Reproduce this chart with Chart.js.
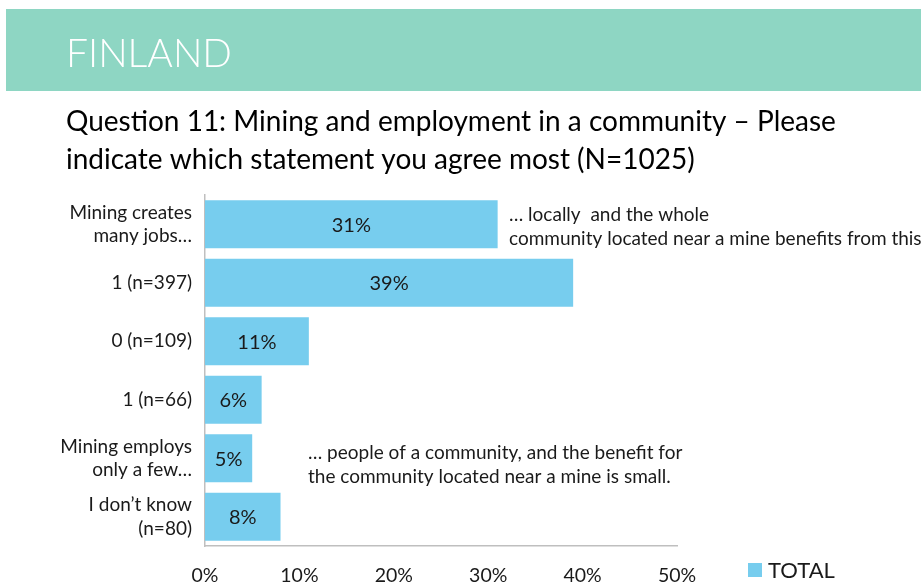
<!DOCTYPE html>
<html>
<head>
<meta charset="utf-8">
<script src="https://cdn.jsdelivr.net/npm/chart.js@4.4.1/dist/chart.umd.min.js"></script>
<style>
    html, body { margin: 0; padding: 0; background: #fff; }
    #q11Chart { display: block; }
</style>
</head>
<body>
<canvas id="q11Chart" width="921" height="584"></canvas>
<script>
const countryName = 'FINLAND';
const questionTitle = [
    'Question 11: Mining and employment in a community \u2013 Please',
    'indicate which statement you agree most (N=1025)'
];
const categories = [
    ['Mining creates', 'many jobs\u2026'],
    '1 (n=397)',
    '0 (n=109)',
    '1 (n=66)',
    ['Mining employs', 'only a few\u2026'],
    ['I don\u2019t know', '(n=80)']
];
const totalShares = [31, 39, 11, 6, 5, 8];
const xTicks = [0, 10, 20, 30, 40, 50];
const seriesName = 'TOTAL';
const topStatement = ['\u2026 locally  and the whole', 'community located near a mine benefits from this'];
const bottomStatement = ['\u2026 people of a community, and the benefit for', 'the community located near a mine is small.'];

const BAR_COLOR = '#77cdee';
const TEXT_FONT = '"Lato", "Open Sans", sans-serif';

// header band, question text, statements, value labels and legend
const decorations = {
    id: 'decorations',
    beforeDraw(chart) {
        const ctx = chart.ctx;
        ctx.save();
        ctx.fillStyle = '#8ed6c3';
        ctx.fillRect(6, 9, 915, 82);
        ctx.fillStyle = '#ffffff';
        ctx.font = '300 39px ' + TEXT_FONT;
        ctx.textBaseline = 'alphabetic';
        ctx.fillText(countryName, 66, 67);

        ctx.fillStyle = '#000000';
        ctx.font = '28px ' + TEXT_FONT;
        ctx.fillText(questionTitle[0], 66, 131);
        ctx.fillText(questionTitle[1], 66, 169);
        ctx.restore();
    },
    afterDatasetsDraw(chart) {
        const ctx = chart.ctx;
        const meta = chart.getDatasetMeta(0);
        const x0 = chart.scales.x.getPixelForValue(0);
        ctx.save();
        ctx.fillStyle = '#1a1a1a';
        ctx.font = '20px ' + TEXT_FONT;
        ctx.textAlign = 'center';
        ctx.textBaseline = 'middle';
        meta.data.forEach((bar, i) => {
            ctx.fillText(totalShares[i] + '%', (x0 + bar.x) / 2, bar.y + 1);
        });

        ctx.textAlign = 'left';
        ctx.font = '19px ' + TEXT_FONT;
        ctx.fillText(topStatement[0], 509, 215);
        ctx.fillText(topStatement[1], 509, 239);
        ctx.fillText(bottomStatement[0], 308, 453);
        ctx.fillText(bottomStatement[1], 308, 477);

        ctx.fillStyle = BAR_COLOR;
        ctx.fillRect(748, 563, 14, 14);
        ctx.fillStyle = '#1a1a1a';
        ctx.font = '22px ' + TEXT_FONT;
        ctx.fillText(chart.data.datasets[0].label, 768, 571);
        ctx.restore();
    }
};

new Chart(document.getElementById('q11Chart'), {
    type: 'bar',
    data: {
        labels: categories,
        datasets: [{
            label: seriesName,
            data: totalShares,
            backgroundColor: BAR_COLOR,
            borderWidth: 0,
            barPercentage: 0.82,
            categoryPercentage: 1
        }]
    },
    options: {
        indexAxis: 'y',
        responsive: false,
        animation: false,
        layout: {
            padding: { left: 0, right: 244, top: 195, bottom: 0 }
        },
        plugins: {
            legend: { display: false },
            tooltip: { enabled: false }
        },
        scales: {
            x: {
                min: 0,
                max: 50,
                afterFit: s => { s.height = 38; },
                afterBuildTicks: s => { s.ticks = xTicks.map(v => ({ value: v })); },
                grid: { display: false, drawTicks: false },
                border: { display: true, color: '#bfbfbf', width: 1.5 },
                ticks: {
                    padding: 18,
                    color: '#1a1a1a',
                    font: { family: TEXT_FONT, size: 19.5 },
                    callback: v => v + '%'
                }
            },
            y: {
                afterFit: s => { s.width = 205; },
                grid: { display: false, drawTicks: false },
                border: { display: true, color: '#bfbfbf', width: 1.5 },
                ticks: {
                    padding: 13,
                    color: '#1a1a1a',
                    font: { family: TEXT_FONT, size: 19, lineHeight: 1.25 }
                }
            }
        }
    },
    plugins: [decorations]
});
</script>
</body>
</html>
